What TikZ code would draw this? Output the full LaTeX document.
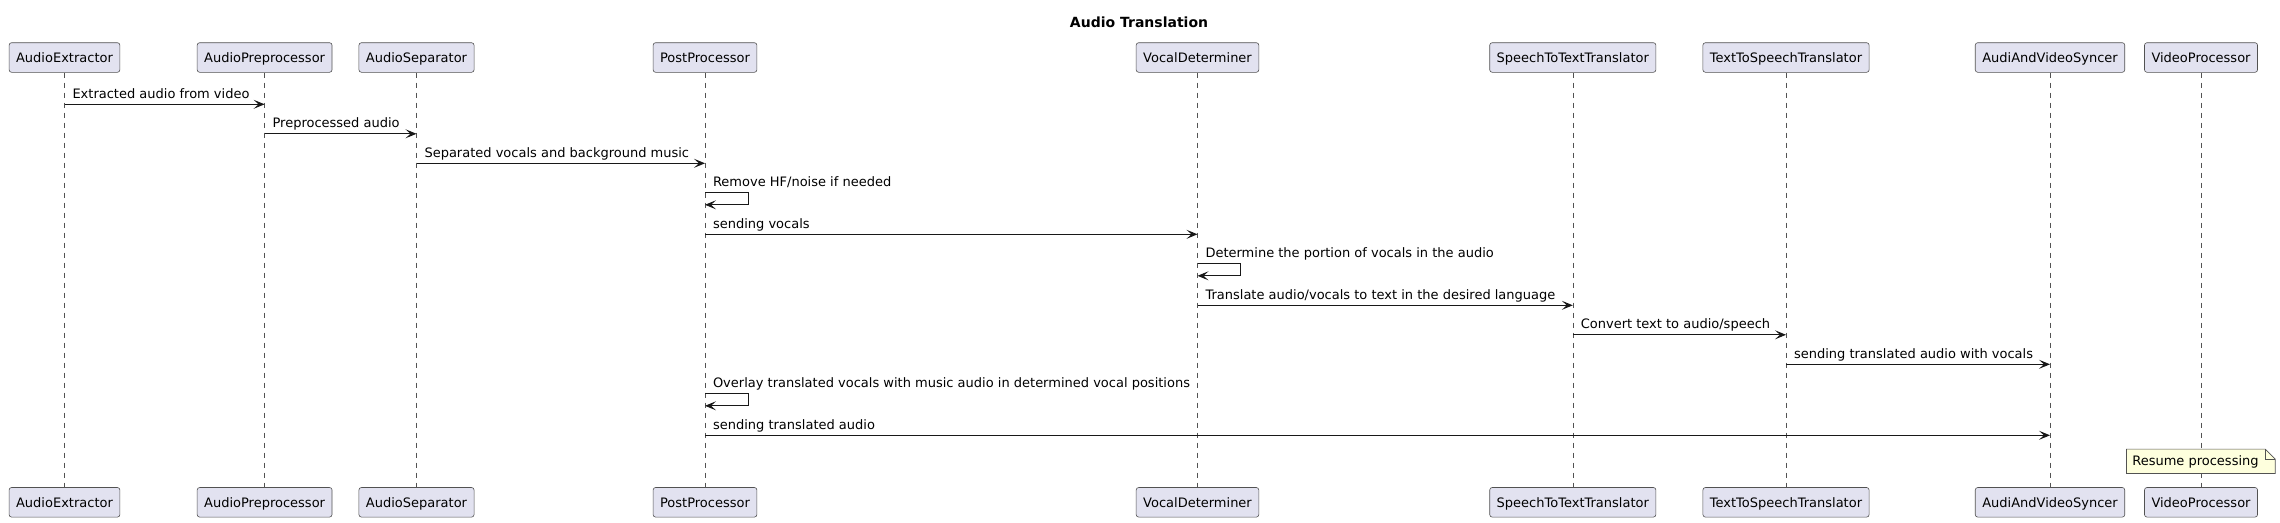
\documentclass[tikz,border=0pt]{standalone}
\usepackage{fontspec}
\setmainfont{DejaVu Sans}
\usetikzlibrary{arrows.meta}
\definecolor{ink}{HTML}{181818}
\definecolor{partfill}{HTML}{E2E2F0}
\definecolor{notefill}{HTML}{FEFFDD}
\tikzset{
  part/.style={draw=ink!75, fill=partfill, line width=0.6pt, rounded corners=2.5pt,
    inner xsep=7pt, inner ysep=0pt, minimum height=29.6pt,
    text height=9.6pt, text depth=0pt, font=\fontsize{13}{15}\selectfont},
  life/.style={draw=ink!75, line width=0.5pt, dash pattern=on 5pt off 5pt},
  msgline/.style={draw=ink, line width=1pt, -{Stealth[length=11pt,width=9pt,inset=5pt]}},
  lbl/.style={inner sep=0pt, font=\fontsize{13}{15}\selectfont, text=black},
  notebox/.style={draw=ink!75, fill=notefill, line width=0.6pt},
}
\newcommand\sqmsg[4]{%
  \coordinate (mya) at (0,#3);
  \draw[msgline] (#1 |- mya) node[lbl,anchor=base west,xshift=7.5pt,yshift=6pt]{#4} -- (#2 |- mya);
}
\newcommand\sqself[3]{%
  \coordinate (sya) at (0,#2);
  \coordinate (syb) at (0,#2+12);
  \draw[msgline] (#1 |- sya) node[lbl,anchor=base west,xshift=7.5pt,yshift=6pt]{#3} -- ++(43,0) -- ++(0,12) -- (#1 |- syb);
}
\begin{document}
\begin{tikzpicture}[x=1pt,y=-1pt]
\useasboundingbox (0,0) rectangle (2280,522);
\node[font=\bfseries\fontsize{14}{16}\selectfont, anchor=base] (title) at (1139,27.5) {Audio Translation};
% top participants
\node[part] (ae) at (64.5,57.5) {AudioExtractor};
\node[part] (ap) at (264.6,57.5) {AudioPreprocessor};
\node[part] (as) at (416.5,57.5) {AudioSeparator};
\node[part] (pp) at (705,57.5) {PostProcessor};
\node[part] (vd) at (1197.5,57.5) {VocalDeterminer};
\node[part] (st) at (1572.8,57.5) {SpeechToTextTranslator};
\node[part] (ts) at (1786,57.5) {TextToSpeechTranslator};
\node[part] (av) at (2050,57.5) {AudiAndVideoSyncer};
\node[part] (vp) at (2201,57.5) {VideoProcessor};
% bottom participants
\node[part] (ae2) at (64.5,502.3) {AudioExtractor};
\node[part] (ap2) at (264.6,502.3) {AudioPreprocessor};
\node[part] (as2) at (416.5,502.3) {AudioSeparator};
\node[part] (pp2) at (705,502.3) {PostProcessor};
\node[part] (vd2) at (1197.5,502.3) {VocalDeterminer};
\node[part] (st2) at (1572.8,502.3) {SpeechToTextTranslator};
\node[part] (ts2) at (1786,502.3) {TextToSpeechTranslator};
\node[part] (av2) at (2050,502.3) {AudiAndVideoSyncer};
\node[part] (vp2) at (2201,502.3) {VideoProcessor};
% lifelines
\foreach \p in {ae,ap,as,pp,vd,st,ts,av,vp}{
  \draw[life] (\p.south) -- (\p2.north);
}
% messages
\sqmsg{ae}{ap}{104.3}{Extracted audio from video}
\sqmsg{ap}{as}{133.8}{Preprocessed audio}
\sqmsg{as}{pp}{163.3}{Separated vocals and background music}
\sqself{pp}{192.8}{Remove HF/noise if needed}
\sqmsg{pp}{vd}{234.3}{sending vocals}
\sqself{vd}{263.8}{Determine the portion of vocals in the audio}
\sqmsg{vd}{st}{305.3}{Translate audio/vocals to text in the desired language}
\sqmsg{st}{ts}{334.8}{Convert text to audio/speech}
\sqmsg{ts}{av}{364.3}{sending translated audio with vocals}
\sqself{pp}{393.8}{Overlay translated vocals with music audio in determined vocal positions}
\sqmsg{pp}{av}{435.3}{sending translated audio}
% note
\node[minimum width=148.3pt, minimum height=24pt, inner sep=0pt] (nt) at (2200.85,461.3) {};
\path[notebox] (nt.north west) -- ([xshift=-10pt]nt.north east) -- ([yshift=-10pt]nt.north east) -- (nt.south east) -- (nt.south west) -- cycle;
\draw[ink!75, line width=0.6pt] ([xshift=-10pt]nt.north east) -- ([xshift=-10pt,yshift=-10pt]nt.north east) -- ([yshift=-10pt]nt.north east);
\node[lbl, anchor=base west] (ntx) at ([xshift=5.6pt,yshift=-3.7pt]nt.west) {Resume processing};
\end{tikzpicture}
\end{document}
